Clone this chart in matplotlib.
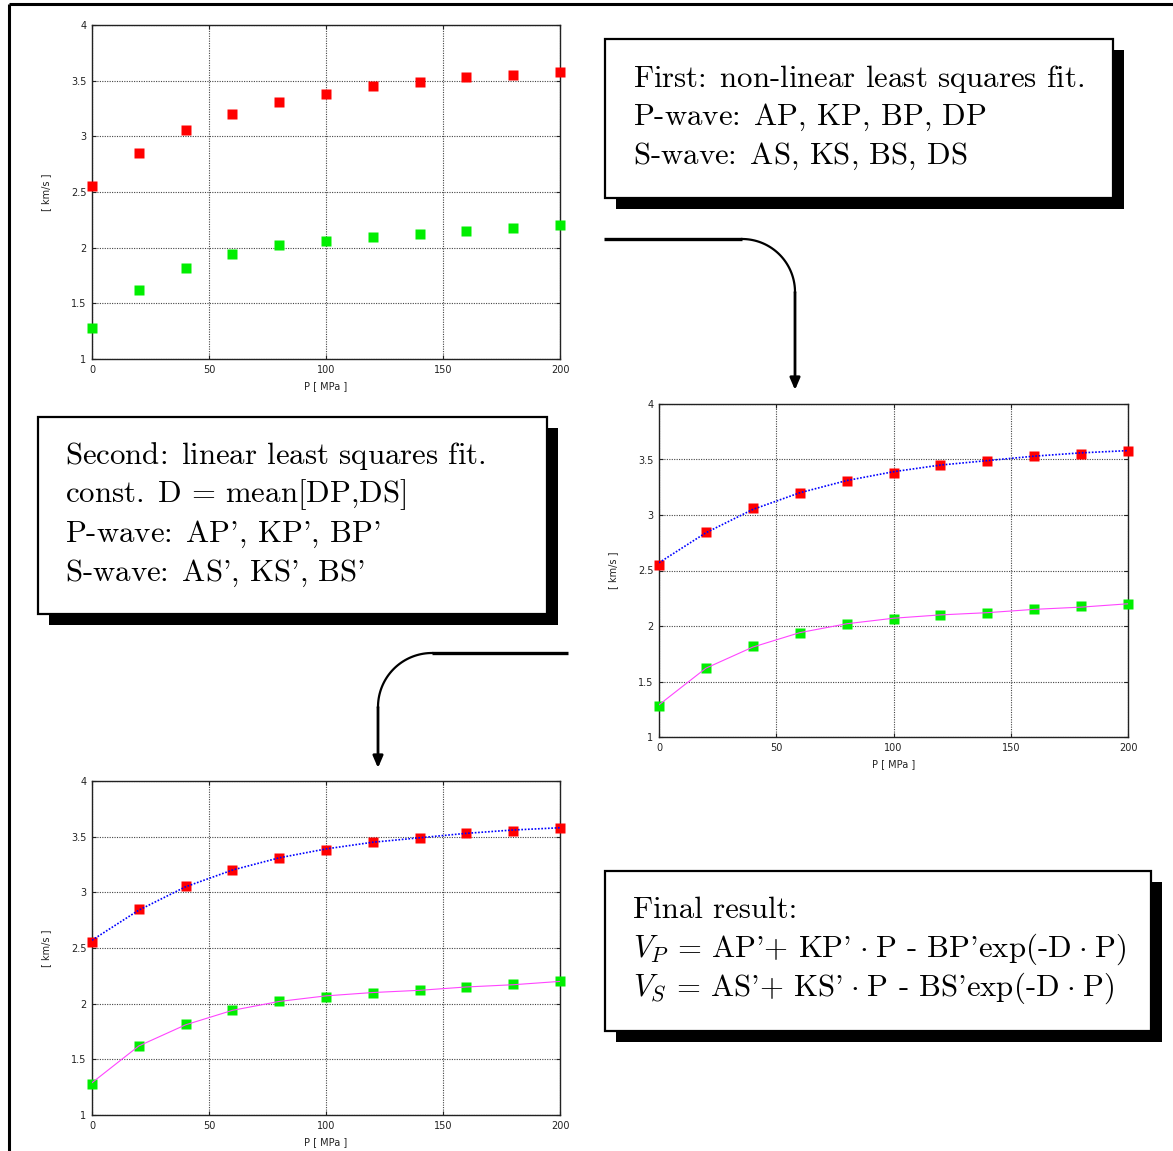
import numpy as np
import matplotlib
matplotlib.use("Agg")
import matplotlib.pyplot as plt
from matplotlib.patches import Rectangle

plt.rcParams['mathtext.fontset'] = 'cm'

W, H = 1173, 1151

# measured velocities vs. confining pressure
pressure = [0, 20, 40, 60, 80, 100, 120, 140, 160, 180, 200]
vp = [2.55, 2.85, 3.06, 3.20, 3.31, 3.38, 3.45, 3.49, 3.53, 3.55, 3.58]
vs = [1.28, 1.62, 1.82, 1.94, 2.02, 2.06, 2.10, 2.12, 2.15, 2.18, 2.20]

# fitted curves at the same pressures
vp_fit = [2.57, 2.84, 3.05, 3.20, 3.31, 3.39, 3.45, 3.49, 3.53, 3.56, 3.58]
vs_fit = [1.29, 1.62, 1.81, 1.94, 2.02, 2.07, 2.10, 2.12, 2.15, 2.17, 2.20]

xticks = [0, 50, 100, 150, 200]
yticks = [1, 1.5, 2, 2.5, 3, 3.5, 4]

# sentence spacing after colons and periods, dot operator with small side gaps
sp = r"$\hspace{0.12}$"
dot = r"$\hspace{0.08}\cdot\hspace{0.08}$"

box1_lines = ["First:" + sp + " non-linear least squares fit.",
              "P-wave:" + sp + " AP, KP, BP, DP",
              "S-wave:" + sp + " AS, KS, BS, DS"]
box2_lines = ["Second:" + sp + " linear least squares fit.",
              "const." + sp + " D = mean[DP,DS]",
              "P-wave:" + sp + " AP', KP', BP'",
              "S-wave:" + sp + " AS', KS', BS'"]
box3_lines = ["Final result:",
              r"$V_P$ = AP'+ KP'" + dot + "P - BP'exp(-D" + dot + "P)",
              r"$V_S$ = AS'+ KS'" + dot + "P - BS'exp(-D" + dot + "P)"]

fig = plt.figure(figsize=(W / 100, H / 100), dpi=100)

# full-figure overlay in pixel coordinates for frame, boxes and arrows
ov = fig.add_axes([0, 0, 1, 1])
ov.set_xlim(0, W)
ov.set_ylim(H, 0)
ov.axis('off')

ov.plot([9, W], [4, 4], color='black', lw=2.2, solid_capstyle='butt')
ov.plot([9, 9], [4, H], color='black', lw=2.2, solid_capstyle='butt')


def panel(left, right, top, bottom, fit):
    ax = fig.add_axes([left / W, 1 - bottom / H, (right - left) / W, (bottom - top) / H])
    ax.set_xlim(0, 200)
    ax.set_ylim(1, 4)
    ax.set_xticks(xticks)
    ax.set_yticks(yticks)
    ax.set_yticklabels(['1', '1.5', '2', '2.5', '3', '3.5', '4'])
    ax.grid(True, color='#444444', linestyle=(0, (1, 1.2)), linewidth=0.8)
    ax.tick_params(direction='in', length=3, labelsize=7, colors='#222222',
                   top=True, right=True, pad=4)
    for s in ax.spines.values():
        s.set_linewidth(1.0)
        s.set_color('#222222')
    ax.set_xlabel('P [ MPa ]', fontsize=7, color='#222222', labelpad=5)
    ax.set_ylabel('[ km/s ]', fontsize=7, color='#222222', labelpad=14)
    ax.plot(pressure, vp, 's', color='#ff0000', ms=7.5, mec='none', clip_on=False, zorder=3)
    ax.plot(pressure, vs, 's', color='#00ee00', ms=7.5, mec='none', clip_on=False, zorder=3)
    if fit:
        ax.plot(pressure, vp_fit, color='#0000ff', ls=(0, (1, 1)), lw=1.2, zorder=4)
        ax.plot(pressure, vs_fit, color='#ff44ff', ls='-', lw=0.8, zorder=4)
    return ax


panel(92, 560, 25, 359, False)
panel(659, 1128, 404, 737, True)
panel(92, 560, 781, 1115, True)


def shadow_box(x0, y0, x1, y1, lines, tx, ty0, dy):
    ov.add_patch(Rectangle((x0 + 11, y0 + 11), x1 - x0, y1 - y0,
                           facecolor='black', edgecolor='none'))
    ov.add_patch(Rectangle((x0, y0), x1 - x0, y1 - y0,
                           facecolor='white', edgecolor='black', lw=1.6))
    for i, line in enumerate(lines):
        ov.text(tx, ty0 + i * dy, line, fontfamily='cmr10', fontsize=22.2,
                va='center', ha='left')


shadow_box(605, 39, 1113, 198, box1_lines, 633, 79, 38.5)
shadow_box(38, 417, 547, 614, box2_lines, 65, 456, 39)
shadow_box(605, 871, 1151, 1031, box3_lines, 633, 910, 39)


def bent_arrow(x_start, x_arc, y_h, r, y_tip, direction):
    # horizontal run, quarter arc, then vertical drop with an arrowhead
    ov.plot([x_start, x_arc], [y_h, y_h], color='black', lw=2.4, solid_capstyle='butt')
    t = np.linspace(0, np.pi / 2, 40)
    xs = x_arc + direction * r * np.sin(t)
    ys = y_h + r * (1 - np.cos(t))
    ov.plot(xs, ys, color='black', lw=1.6)
    xv = xs[-1]
    ov.annotate('', xy=(xv, y_tip), xytext=(xv, y_h + r),
                arrowprops=dict(arrowstyle='-|>,head_length=0.7,head_width=0.3',
                                color='black', lw=2.0, shrinkA=0, shrinkB=0))


bent_arrow(604, 742, 239, 53, 390, +1)
bent_arrow(568, 432, 653, 54, 768, -1)

fig.savefig('out.png', dpi=100)
